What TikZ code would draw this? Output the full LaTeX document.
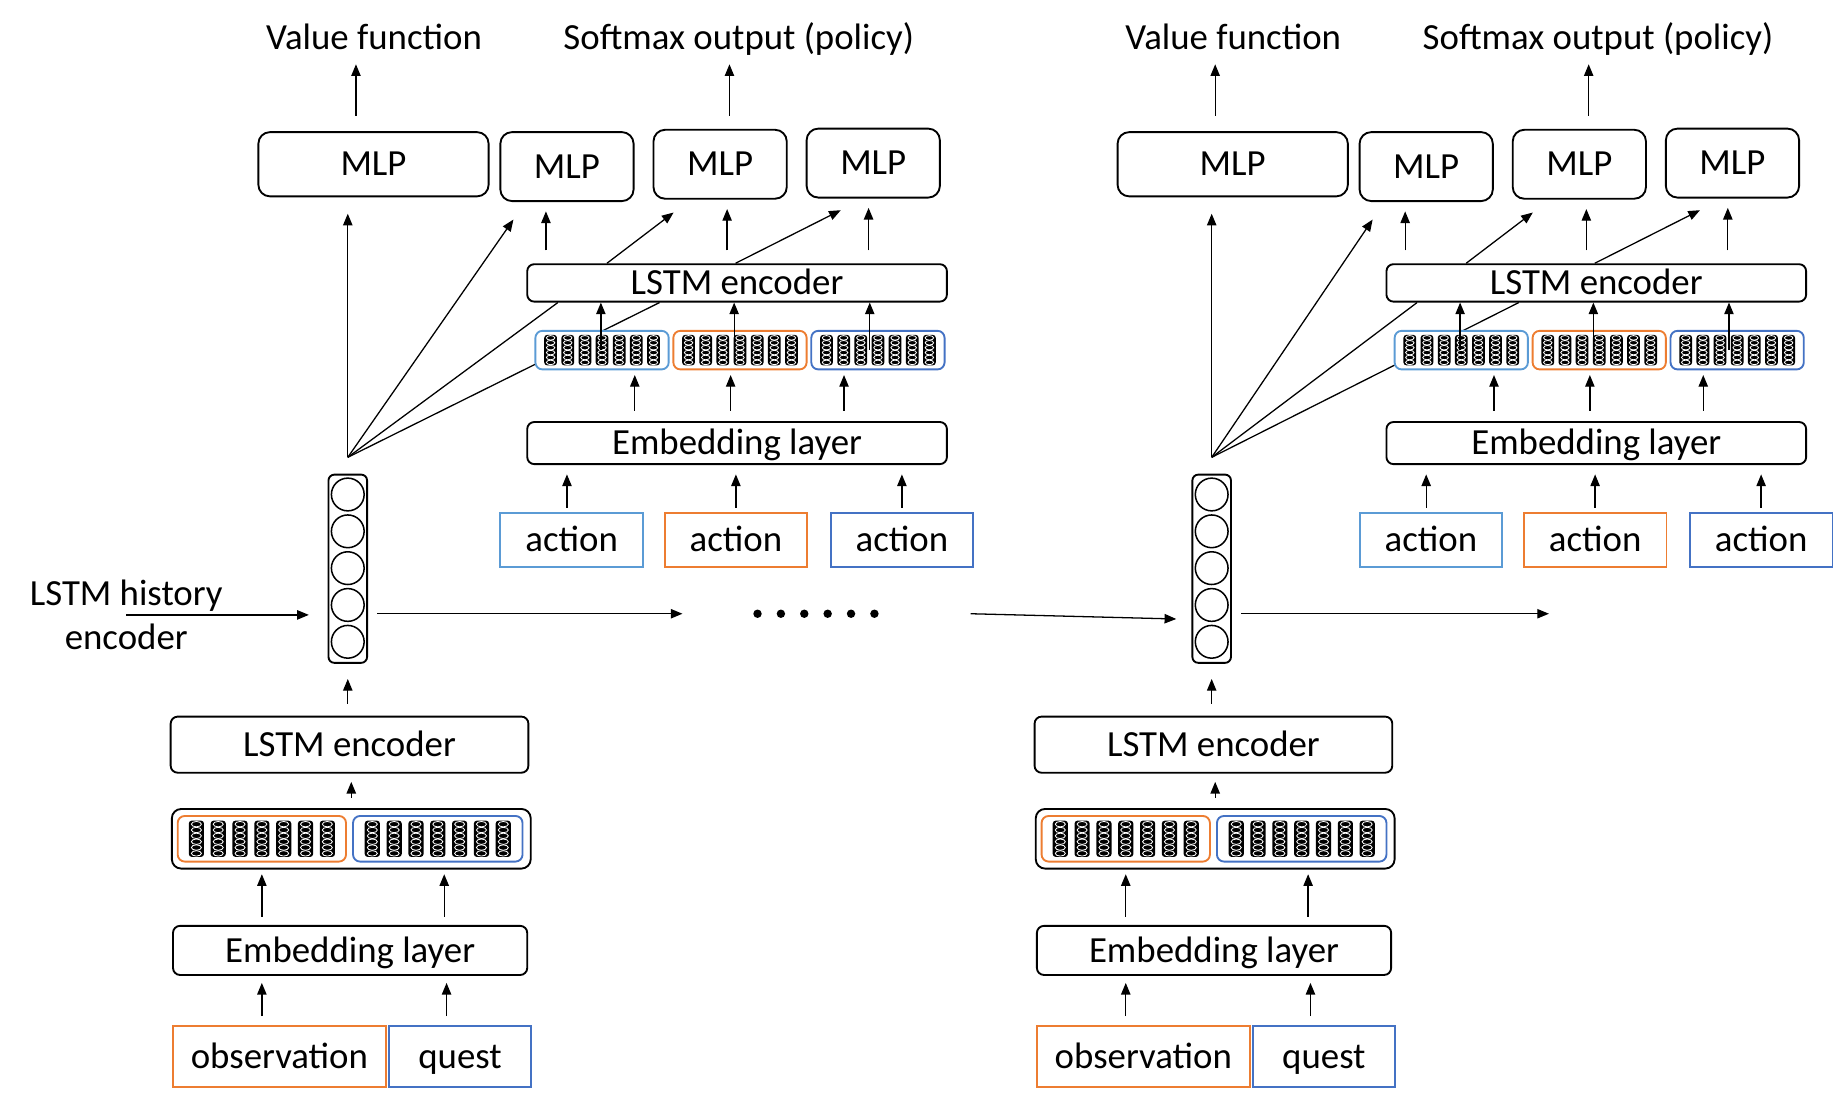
\documentclass[tikz,border=0pt]{standalone}
\usepackage{fontspec}
\setmainfont{Carlito}
\usetikzlibrary{arrows.meta}

\definecolor{embor}{HTML}{ED7D31}
\definecolor{emblb}{HTML}{5B9BD5}
\definecolor{embbl}{HTML}{4472C4}

\tikzset{
  lbl/.style={inner sep=0pt, font=\fontsize{31.5}{38}\selectfont},
  blk/.style={lbl, draw, fill=white, line width=1.6pt, rounded corners=6pt, text height=21pt, text depth=1pt},
  mlp/.style={blk, rounded corners=10pt, minimum width=114pt, minimum height=59pt},
  inp/.style={lbl, draw=#1, fill=white, line width=1.6pt, text height=21pt, text depth=1pt},
  vbox/.style={draw=#1, fill=white, line width=1.6pt, rounded corners=6pt, inner sep=0pt},
  arr/.style={line width=1.1pt, -{Triangle[length=10pt,width=8pt]}},
  ln/.style={line width=1.1pt},
  wcol/.pic={
    \fill[rounded corners=2.5pt] (-6.5,-15.5) rectangle (6.5,15.5);
    \foreach \k in {0,...,5}
      \draw[white, line width=0.7pt] (0,-12.5+\k*5) ellipse[x radius=4.3, y radius=2.3];
  }
}

\begin{document}
\begin{tikzpicture}[x=1pt, y=-1pt]
  \useasboundingbox (0,0) rectangle (1568,943);
  \foreach \s/\sd/\lo in {0/L/0,735/R/4}{
  \begin{scope}[xshift=\s pt]
    % outputs
    \node[lbl, anchor=base] (\sd vf) at (320,42) {Value function};
    \node[lbl, anchor=base] (\sd sm) at (632,42) {Softmax output (policy)};
    \node[mlp, minimum width=197pt, minimum height=55pt] (\sd m0) at (319.5,140.5) {MLP};
    \node[mlp] (\sd m1) at (485,142.5) {MLP};
    \node[mlp] (\sd m2) at (616,140.5) {MLP};
    \node[mlp] (\sd m3) at (747,139.5) {MLP};
    \draw[arr, shorten <=13pt, shorten >=13pt] ([xshift=-15pt]\sd m0.north) -- ([xshift=-15pt]\sd m0.north |- \sd vf.base);
    \draw[arr, shorten <=11pt, shorten >=13pt] ([xshift=8pt]\sd m2.north) -- ([xshift=8pt]\sd m2.north |- \sd sm.base);
    % action encoder
    \node[blk, minimum width=359pt, minimum height=32pt] (\sd ea) at (630.5,242) {LSTM encoder};
    \node[blk, minimum width=359pt, minimum height=36pt] (\sd eu) at (630.5,379) {Embedding layer};
    % history state
    \begin{scope}[xshift=\lo pt]
      \node[draw, line width=1.6pt, rounded corners=5pt, minimum width=33pt, minimum height=161pt, inner sep=0pt] (\sd hid) at (297.5,486.5) {};
      \foreach \k in {0,...,4}
        \draw[line width=1.3pt] (297.5,423+\k*31.5) circle[radius=14];
    \end{scope}
    \coordinate (\sd top) at ([yshift=14pt]\sd hid.north);
    \draw[arr, shorten >=14pt] (\sd top) -- (\sd top |- \sd m0.south);
    \draw[arr] (\sd top) -- ([xshift=12pt,yshift=-15pt]\sd m1.south west);
    \draw[ln] (\sd top) -- ([xshift=27pt]\sd ea.south west);
    \draw[ln] (\sd top) -- ([xshift=114pt]\sd ea.south west);
    % encoder to heads
    \draw[arr] ([xshift=69pt]\sd ea.north west) -- ([xshift=18pt,yshift=-11pt]\sd m2.south west);
    \draw[arr] ([xshift=179pt]\sd ea.north west) -- ([xshift=30pt,yshift=-10pt]\sd m3.south west);
    \foreach \m/\dx in {m1/-18,m2/6,m3/-4}
      \draw[arr, shorten <=11pt, shorten >=8pt] ([xshift=\dx pt]\sd \m.south |- \sd ea.north) -- ([xshift=\dx pt]\sd \m.south);
    % word vectors of the actions
    \foreach \n/\c/\xc/\dx/\du in {vA/emblb/515/-1/28, vB/embor/633/-5/-8, vC/embbl/751/-7/-29}{
      \node[vbox=\c, minimum width=114pt, minimum height=33pt] (\sd\n) at (\xc,299.5) {};
      \foreach \i in {0,...,6}
        \pic[scale=0.84] at (\xc-44+\i*14.67,299.5) {wcol};
      \draw[arr] ([xshift=\dx pt]\sd\n.center) -- ([xshift=\dx pt]\sd\n.center |- \sd ea.south);
      \draw[arr, shorten <=9pt, shorten >=4pt] ([xshift=\du pt]\sd\n.south |- \sd eu.north) -- ([xshift=\du pt]\sd\n.south);
    }
    \foreach \n/\c/\xc/\dx in {aA/emblb/489/-4, aB/embor/629.5/0, aC/embbl/771.5/0}{
      \node[inp=\c, minimum width=122pt, minimum height=46pt] (\sd\n) at (\xc,462) {action};
      \draw[arr, shorten <=4pt, shorten >=8pt] ([xshift=\dx pt]\sd\n.north) -- ([xshift=\dx pt]\sd\n.north |- \sd eu.south);
    }
    % observation side
    \begin{scope}[xshift=\lo pt]
    \node[blk, minimum width=306pt, minimum height=48pt] (\sd enc) at (299,637) {LSTM encoder};
    \node[draw, line width=1.6pt, rounded corners=8pt, minimum width=307pt, minimum height=51pt, inner sep=0pt] (\sd wv) at (300.5,717.5) {};
    \node[vbox=embor, minimum width=144pt, minimum height=39pt] (\sd wo) at (224,717.5) {};
    \node[vbox=embbl, minimum width=145pt, minimum height=39pt] (\sd wq) at (374.5,717.5) {};
    \foreach \xc in {224,374.5}
      \foreach \i in {0,...,6}
        \pic at (\xc-56+\i*18.67,717.5) {wcol};
    \node[blk, minimum width=303pt, minimum height=42pt] (\sd el) at (299.5,813) {Embedding layer};
    \node[inp=embor, minimum width=182pt, minimum height=52pt] (\sd obs) at (239,904) {observation};
    \node[inp=embbl, minimum width=121pt, minimum height=52pt] (\sd qst) at (393.5,904) {quest};
    \end{scope}
    \draw[arr, shorten <=10pt, shorten >=13pt] (\sd hid.south |- \sd enc.north) -- (\sd hid.south);
    \draw[arr, shorten <=9pt, shorten >=7pt] (\sd wv.north) -- (\sd wv.north |- \sd enc.south);
    \draw[arr, shorten <=7pt, shorten >=10pt] (\sd wo.south |- \sd el.north) -- (\sd wo.south);
    \draw[arr, shorten <=7pt, shorten >=10pt] ([xshift=5.5pt]\sd wq.south |- \sd el.north) -- ([xshift=5.5pt]\sd wq.south);
    \draw[arr, shorten <=8pt, shorten >=6pt] ([xshift=-15pt]\sd obs.north) -- ([xshift=-15pt]\sd obs.north |- \sd el.south);
    \draw[arr, shorten <=8pt, shorten >=6pt] ([xshift=-11.5pt]\sd qst.north) -- ([xshift=-11.5pt]\sd qst.north |- \sd el.south);
  \end{scope}
  }
  % history links
  \node[lbl, align=center] (hist) at (108,526) {LSTM history\\encoder};
  \draw[arr] (hist.center) -- ([xshift=-16pt]Lhid.west |- hist.center);
  \node[minimum width=108pt, minimum height=8pt, inner sep=0pt] (dots) at (698,525) {};
  \foreach \k in {0,...,5}
    \fill (648+\k*20,525) circle[radius=3.6];
  \draw[arr] ([xshift=8pt,yshift=-38.5pt]Lhid.east) -- ([xshift=-60pt]dots.west);
  \draw[arr] ([xshift=78pt]dots.east) -- ([xshift=-13pt,yshift=-43pt]Rhid.west);
  \coordinate (nxt) at (1325,525);
  \draw[arr] ([xshift=8pt,yshift=-38.5pt]Rhid.east) -- (nxt);
\end{tikzpicture}
\end{document}
